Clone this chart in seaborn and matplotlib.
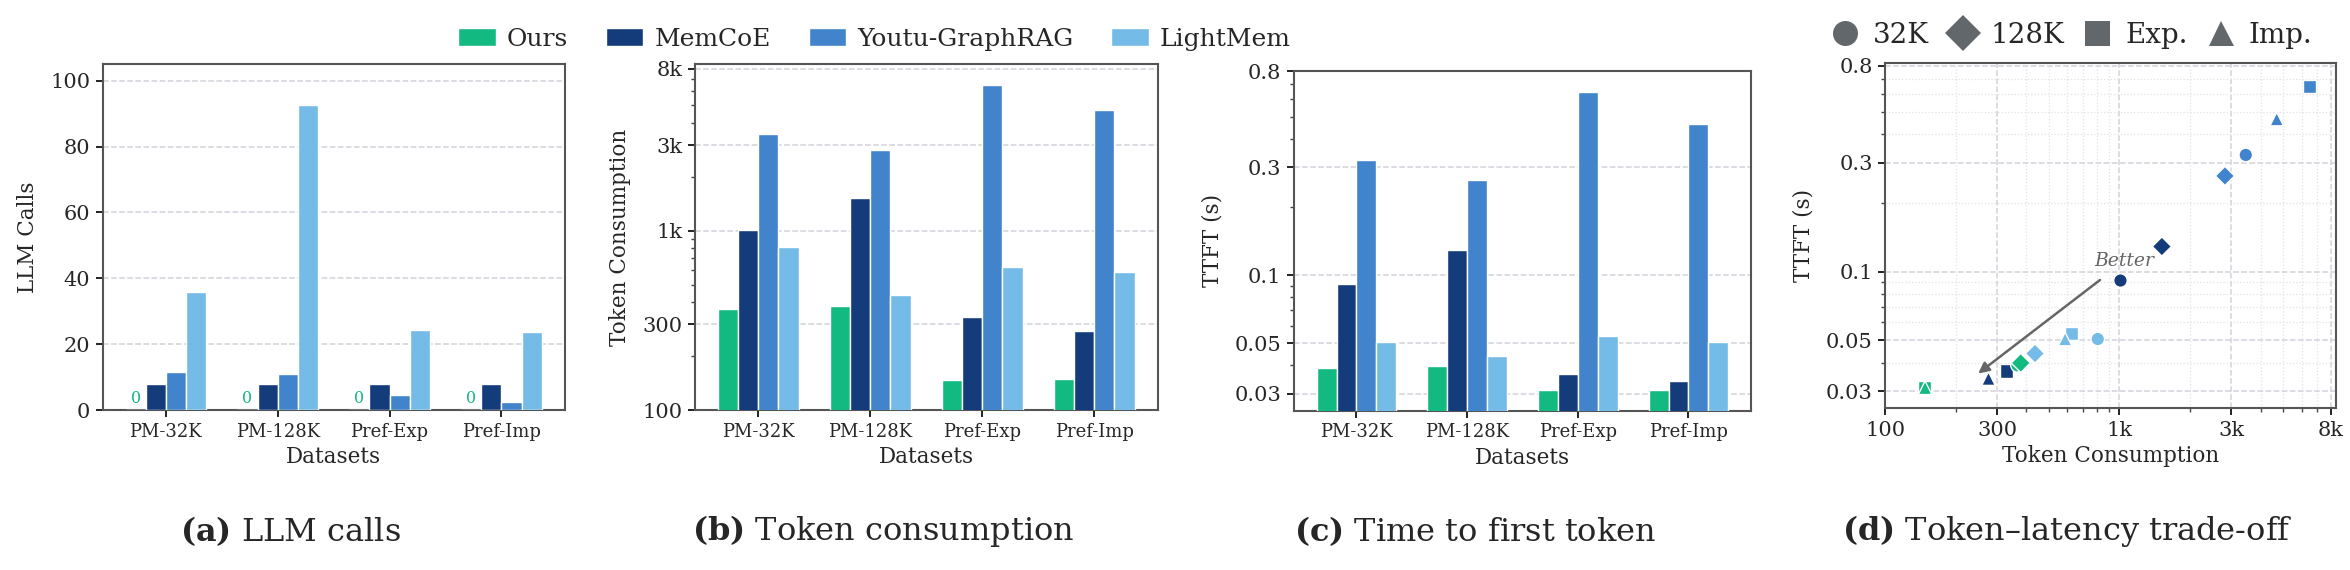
import numpy as np
import pandas as pd
import seaborn as sns
import matplotlib.pyplot as plt
from matplotlib.patches import Patch
from matplotlib.lines import Line2D
from matplotlib.ticker import NullFormatter, LogLocator

# ---- data ----
datasets = ["PM-32K", "PM-128K", "Pref-Exp", "Pref-Imp"]
methods = ["Ours", "MemCoE", "Youtu-GraphRAG", "LightMem"]
colors = ["#12B981", "#153C7A", "#4184CC", "#75BBE7"]

llm_ours = [0, 0, 0, 0]
llm_memcoe = [7.8, 7.8, 7.8, 7.8]
llm_graphrag = [11.5, 10.9, 4.5, 2.4]
llm_lightmem = [35.8, 92.5, 24.2, 23.7]

tok_ours = [367, 379, 147, 148]
tok_memcoe = [1010, 1517, 330, 276]
tok_graphrag = [3460, 2820, 6470, 4690]
tok_lightmem = [808, 436, 625, 586]

ttft_ours = [0.0389, 0.0398, 0.031, 0.031]
ttft_memcoe = [0.0915, 0.129, 0.0368, 0.034]
ttft_graphrag = [0.325, 0.263, 0.649, 0.467]
ttft_lightmem = [0.0507, 0.0438, 0.0537, 0.0507]

shape_names = ["32K", "128K", "Exp.", "Imp."]
shape_markers = ["o", "D", "s", "^"]

tok_ticks = [100, 300, 1000, 3000, 8000]
tok_labels = ["100", "300", "1k", "3k", "8k"]
ttft_ticks = [0.03, 0.05, 0.1, 0.3, 0.8]
ttft_labels = ["0.03", "0.05", "0.1", "0.3", "0.8"]

captions = [r"$\mathbf{(a)}$ LLM calls", r"$\mathbf{(b)}$ Token consumption",
            r"$\mathbf{(c)}$ Time to first token", r"$\mathbf{(d)}$ Token–latency trade-off"]


def long_df(cols):
    rows = []
    for m, vals in zip(methods, cols):
        for d, v in zip(datasets, vals):
            rows.append({"Dataset": d, "Method": m, "value": v})
    return pd.DataFrame(rows)


df_llm = long_df([llm_ours, llm_memcoe, llm_graphrag, llm_lightmem])
df_tok = long_df([tok_ours, tok_memcoe, tok_graphrag, tok_lightmem])
df_ttft = long_df([ttft_ours, ttft_memcoe, ttft_graphrag, ttft_lightmem])

# scatter points, drawn last method first so Ours ends on top
rows = []
tok_all = [tok_ours, tok_memcoe, tok_graphrag, tok_lightmem]
ttft_all = [ttft_ours, ttft_memcoe, ttft_graphrag, ttft_lightmem]
for k in [3, 2, 1, 0]:
    for j in range(4):
        rows.append({"Method": methods[k], "Shape": shape_names[j],
                     "tokens": tok_all[k][j], "ttft": ttft_all[k][j]})
df_pts = pd.DataFrame(rows)

sns.set_theme(style="ticks")
plt.rcParams["font.family"] = ["DejaVu Serif"]
plt.rcParams["mathtext.fontset"] = "dejavuserif"

spine_c = "#555555"
grid_c = "#d2d2da"

fig = plt.figure(figsize=(23.5, 5.7), dpi=100)
ax_a = fig.add_axes([0.04366, 0.2807, 0.1967, 0.6065])
ax_b = fig.add_axes([0.2957, 0.2807, 0.1970, 0.6065])
ax_c = fig.add_axes([0.5506, 0.2795, 0.1946, 0.5965])
ax_d = fig.add_axes([0.8022, 0.2837, 0.1917, 0.6053])


def style_axes(ax):
    for s in ax.spines.values():
        s.set_color(spine_c)
        s.set_linewidth(1.5)
    ax.tick_params(which="major", length=5, width=1.4, color="#222222", pad=4)
    ax.tick_params(which="minor", length=3, width=1.0, color="#444444")
    ax.tick_params(axis="y", labelsize=15)
    ax.set_axisbelow(True)


def bars(ax, df, log):
    if log:
        ax.set_yscale("log")
    sns.barplot(data=df, x="Dataset", y="value", hue="Method", hue_order=methods,
                palette=colors, saturation=1, width=0.72, edgecolor="white",
                linewidth=1, legend=False, ax=ax, zorder=3)
    ax.set_xlim(-0.565, 3.567)
    ax.yaxis.grid(True, which="major", ls="--", color=grid_c, lw=1.1)
    ax.set_xlabel("Datasets", fontsize=15.5)
    ax.tick_params(axis="x", labelsize=13)
    style_axes(ax)


# (a) LLM calls
bars(ax_a, df_llm, False)
ax_a.set_ylim(0, 105)
ax_a.set_yticks([0, 20, 40, 60, 80, 100])
ax_a.set_ylabel("LLM Calls", fontsize=15.5, labelpad=8)
for bar in ax_a.containers[0]:
    ax_a.text(bar.get_x() + bar.get_width() / 2, 2, "0", color=colors[0],
              ha="center", va="baseline", fontsize=11.5, zorder=4)

# (b) Token consumption
bars(ax_b, df_tok, True)
ax_b.set_ylim(100, 8470)
ax_b.set_yticks(tok_ticks, labels=tok_labels)
ax_b.yaxis.set_minor_locator(LogLocator(subs=np.arange(2, 10)))
ax_b.yaxis.set_minor_formatter(NullFormatter())
ax_b.set_ylabel("Token Consumption", fontsize=15.5, labelpad=8)

# (c) TTFT
bars(ax_c, df_ttft, True)
ax_c.set_ylim(0.0252, 0.804)
ax_c.set_yticks(ttft_ticks, labels=ttft_labels)
ax_c.yaxis.set_minor_locator(LogLocator(subs=np.arange(2, 10)))
ax_c.yaxis.set_minor_formatter(NullFormatter())
ax_c.set_ylabel("TTFT (s)", fontsize=15.5, labelpad=8)

# (d) trade-off scatter
ax_d.set_xscale("log")
ax_d.set_yscale("log")
sns.scatterplot(data=df_pts, x="tokens", y="ttft", hue="Method", hue_order=methods,
                palette=colors, style="Shape", style_order=shape_names,
                markers=dict(zip(shape_names, shape_markers)), s=95,
                edgecolor="white", linewidth=1, legend=False, ax=ax_d, zorder=3)
ax_d.set_xlim(100, 8370)
ax_d.set_ylim(0.0252, 0.82)
ax_d.set_xticks(tok_ticks, labels=tok_labels)
ax_d.set_yticks(ttft_ticks, labels=ttft_labels)
for axis in (ax_d.xaxis, ax_d.yaxis):
    axis.set_minor_locator(LogLocator(subs=np.arange(2, 10)))
    axis.set_minor_formatter(NullFormatter())
ax_d.grid(True, which="major", ls="--", color=grid_c, lw=1.1)
ax_d.grid(True, which="minor", ls=":", color="#e2e2e8", lw=0.9)
ax_d.set_xlabel("Token Consumption", fontsize=15.5)
ax_d.set_ylabel("TTFT (s)", fontsize=15.5, labelpad=8)
style_axes(ax_d)
ax_d.tick_params(axis="x", labelsize=15)
ax_d.annotate("", xy=(244, 0.0352), xytext=(844, 0.0936),
              arrowprops=dict(arrowstyle="-|>", color="#666666", lw=1.8,
                              mutation_scale=16), zorder=2)
ax_d.text(1050, 0.1117, "Better", style="italic", color="#666666", fontsize=13.5,
          ha="center", va="center")

# legends
handles = [Patch(facecolor=c, edgecolor="white") for c in colors]
fig.legend(handles, methods, loc="center", bbox_to_anchor=(874.5 / 2350, 0.931),
           ncol=4, frameon=False, fontsize=18, handlelength=1.5, handleheight=0.75,
           handletextpad=0.45, columnspacing=1.5)

shape_handles = [Line2D([], [], marker=m, ls="", color="#62676b", markersize=18,
                        markeredgewidth=0) for m in shape_markers]
fig.legend(shape_handles, shape_names, loc="center", bbox_to_anchor=(2072 / 2350, 0.938),
           ncol=4, frameon=False, fontsize=20, handlelength=1.0, handletextpad=0.5,
           columnspacing=0.7)

# sub-captions
for xc, txt in zip([290, 883, 1475, 2067], captions):
    fig.text(xc / 2350, 0.068, txt, ha="center", va="center", fontsize=23)

fig.savefig("out.png", dpi=100)
